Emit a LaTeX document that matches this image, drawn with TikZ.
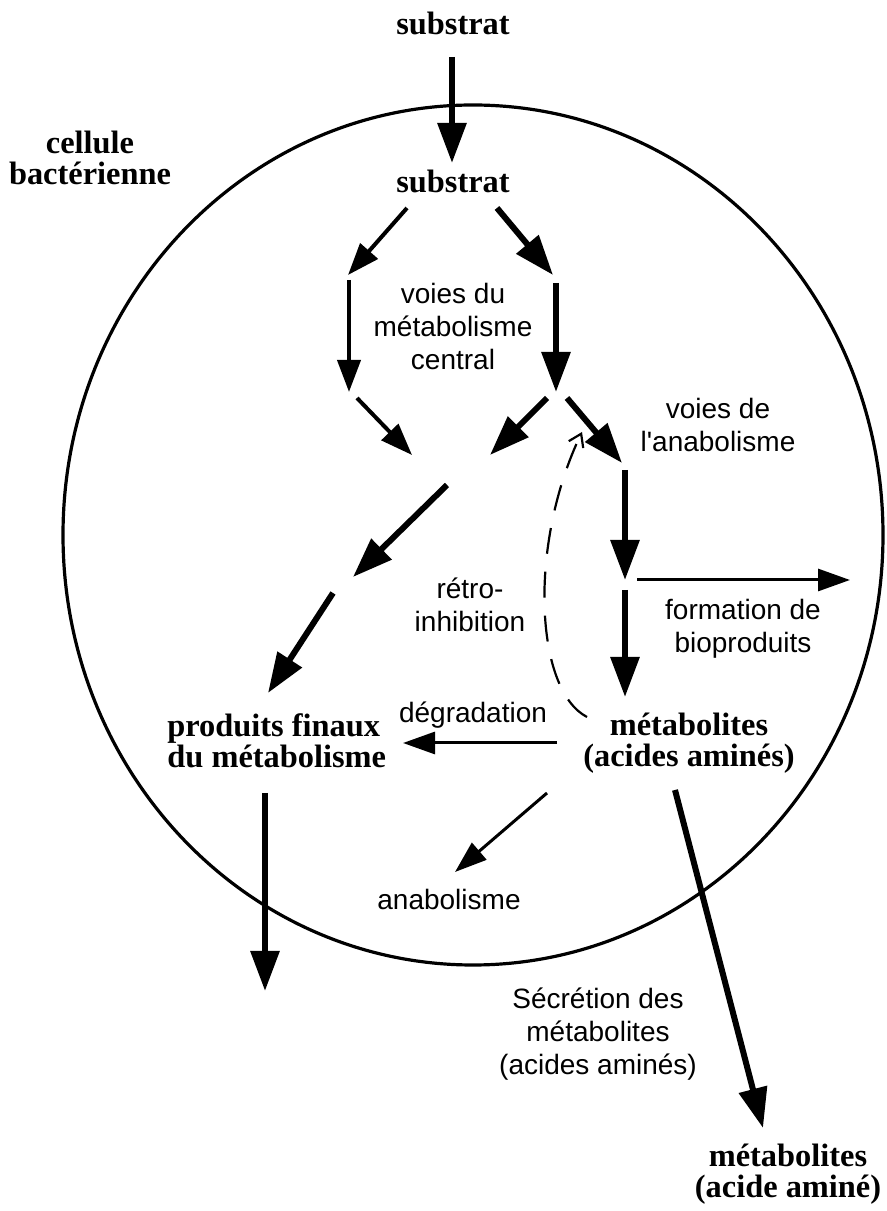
\documentclass[tikz,border=0pt]{standalone}
\usepackage{fontspec}
\setmainfont{Liberation Serif}
\setsansfont{Liberation Sans}
\usepackage{tikz}
\usetikzlibrary{arrows.meta}
\tikzset{
  term/.style={font=\bfseries\fontsize{16.2}{15.5}\selectfont, align=center, inner sep=0pt},
  note/.style={font=\sffamily\fontsize{14}{16.6}\selectfont, align=center, inner sep=0pt},
  thickflow/.style={-{Triangle[length=20pt, width=14pt]}, line width=3pt},
  midflow/.style={-{Triangle[length=16pt, width=11.5pt]}, line width=2pt},
  thinflow/.style={-{Triangle[length=16pt, width=11pt]}, line width=1.5pt},
  feedback/.style={-{Straight Barb[length=6pt, width=8pt]}, line width=1.1pt, dash pattern=on 13pt off 9pt},
  membrane/.style={line width=1.6pt},
}

\begin{document}
\begin{tikzpicture}[x=5pt, y=5pt]
  \useasboundingbox (0,0) rectangle (88.7,121.1);
  % Cell membrane
  \draw[membrane] (47.3,67.6) ellipse [x radius=205pt, y radius=215pt];
  \node[term, anchor=base] (cell) at (9.0,102.6) {cellule\\bactérienne};

  % Substrate entry
  \node[term, anchor=base] (subTop) at (45.3,117.6) {substrat};
  \node[term, anchor=base] (subIn) at (45.3,101.8) {substrat};
  \coordinate (entryA) at (45.2,115.4);
  \coordinate (entryB) at (45.2,104.8);
  \draw[thickflow] (entryA) -- (entryB);

  % Central metabolism
  \node[note, anchor=base] (central) at (45.3,84.1) {voies du\\métabolisme\\central};
  \coordinate (splitL) at (40.7,100.3);
  \coordinate (splitR) at (49.7,100.3);
  \coordinate (leftA) at (34.8,93.6);
  \coordinate (leftB) at (34.9,93.1);
  \coordinate (leftC) at (34.9,81.9);
  \coordinate (leftD) at (35.7,81.3);
  \coordinate (leftE) at (41.2,75.6);
  \coordinate (rightA) at (55.3,93.6);
  \coordinate (rightB) at (55.6,92.8);
  \coordinate (rightC) at (55.6,81.9);
  \draw[midflow] (splitL) -- (leftA);
  \draw[midflow] (leftB) -- (leftC);
  \draw[midflow] (leftD) -- (leftE);
  \draw[thickflow] (splitR) -- (rightA);
  \draw[thickflow] (rightB) -- (rightC);

  % Towards end products
  \coordinate (crossA) at (54.7,81.3);
  \coordinate (crossB) at (49.0,75.6);
  \coordinate (endA) at (44.7,72.6);
  \coordinate (endB) at (35.3,63.4);
  \coordinate (endC) at (33.3,61.8);
  \coordinate (endD) at (26.8,51.8);
  \draw[thickflow] (crossA) -- (crossB);
  \draw[thickflow] (endA) -- (endB);
  \draw[thickflow] (endC) -- (endD);
  \node[term, anchor=base west, align=left] (prod) at (16.7,44.3) {produits finaux\\du métabolisme};
  \coordinate (prodOut) at (26.5,22.0);
  \draw[thickflow] (26.5,41.8) -- (prodOut);

  % Anabolism
  \node[note, anchor=base] (anab) at (71.8,75.9) {voies de\\l\textquotesingle anabolisme};
  \coordinate (anaA) at (56.7,81.3);
  \coordinate (anaB) at (62.2,74.8);
  \coordinate (anaC) at (62.5,74.1);
  \coordinate (anaD) at (62.5,63.1);
  \coordinate (anaE) at (62.5,62.1);
  \coordinate (anaF) at (62.5,51.4);
  \draw[thickflow] (anaA) -- (anaB);
  \draw[thickflow] (anaC) -- (anaD);
  \draw[thickflow] (anaE) -- (anaF);
  \coordinate (bioA) at (63.7,63.1);
  \coordinate (bioB) at (85.0,63.1);
  \draw[thinflow] (bioA) -- (bioB);
  \node[note, anchor=base] (biop) at (74.3,55.8) {formation de\\bioproduits};

  % Metabolites and feedback
  \node[term, anchor=base] (metab) at (68.9,44.4) {métabolites\\(acides aminés)};
  \node[note, anchor=base] (retro) at (47.0,57.9) {rétro-\\inhibition};
  \coordinate (fbA) at (58.7,49.4);
  \coordinate (fbB) at (58.2,77.9);
  \draw[feedback] (fbA) .. controls (53.5,52.1) and (52.8,66.6) .. (fbB);
  \node[note, anchor=base] (degr) at (47.3,48.8) {dégradation};
  \coordinate (degA) at (55.7,46.8);
  \coordinate (degB) at (40.3,46.8);
  \draw[thinflow] (degA) -- (degB);
  \node[note, anchor=base] (anabol) at (44.9,30.1) {anabolisme};
  \coordinate (useA) at (54.7,41.8);
  \coordinate (useB) at (45.5,33.9);
  \draw[thinflow] (useA) -- (useB);

  % Secretion
  \node[note, anchor=base] (secr) at (59.8,13.6) {Sécrétion des\\métabolites\\(acides aminés)};
  \node[term, anchor=base] (metabOut) at (78.8,1.3) {métabolites\\(acide aminé)};
  \coordinate (secA) at (67.5,42.1);
  \coordinate (secB) at (76.3,8.3);
  \draw[thickflow] (secA) -- (secB);
\end{tikzpicture}
\end{document}
